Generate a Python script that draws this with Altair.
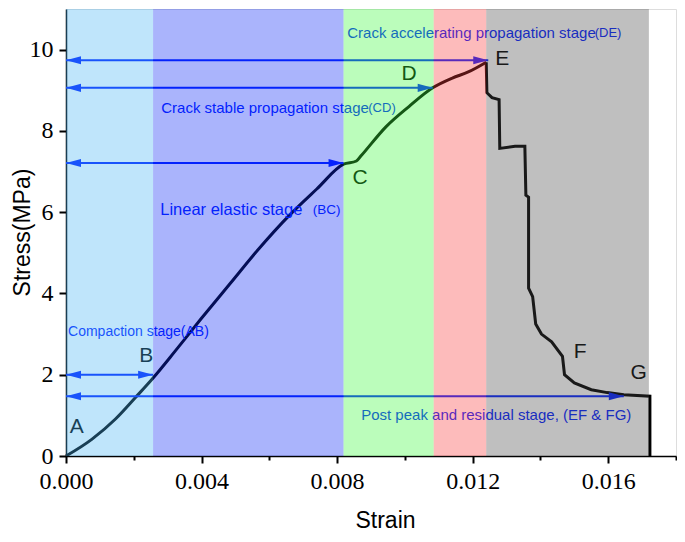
import altair as alt
import pandas as pd

# ---- data ----
# pre-peak branch (A -> E)
rise_strain = [0.0, 0.00076, 0.00146, 0.00205, 0.00257, 0.00322, 0.00398, 0.00485, 0.00564,
               0.00661, 0.0074, 0.00819, 0.00857, 0.0087, 0.00944, 0.01012, 0.01082, 0.0114,
               0.01187, 0.01240]
rise_stress = [0.0, 0.41, 0.91, 1.44, 1.92, 2.58, 3.37, 4.25, 5.05,
               5.94, 6.57, 7.18, 7.26, 7.38, 8.1, 8.6, 9.06, 9.3,
               9.45, 9.69]
# post-peak branch (E -> F -> G)
fall_strain = [0.01240, 0.01242, 0.01257, 0.01278, 0.0128, 0.01325, 0.01354, 0.01357,
               0.01365, 0.01365, 0.01377, 0.01386, 0.01403, 0.01433, 0.01465, 0.01471, 0.015,
               0.0155, 0.01597, 0.01646, 0.01723, 0.01723]
fall_stress = [9.69, 8.94, 8.82, 8.77, 7.57, 7.62, 7.62, 6.42,
               6.37, 4.13, 3.92, 3.25, 3.0, 2.81, 2.45, 2.0, 1.8,
               1.63, 1.56, 1.51, 1.47, 0.0]

band_start = [0.0, 0.00257, 0.00819, 0.01085, 0.01240]
band_end = [0.00257, 0.00819, 0.01085, 0.01240, 0.01720]
band_color = ["#48B5F4", "#0C29F6", "#3DF93D", "#F93D3D", "#484848"]

arrow_y = [9.74, 9.06, 7.21, 2.0, 1.47]
arrow_start = [0.0, 0.0, 0.0, 0.0, 0.0]
arrow_end = [0.01246, 0.01082, 0.00819, 0.00257, 0.01646]

letters = ["A", "B", "C", "D", "E", "F", "G"]
letter_x = [0.00032, 0.00237, 0.00868, 0.01012, 0.01287, 0.01517, 0.01690]
letter_y = [0.72, 2.45, 6.83, 9.40, 9.76, 2.55, 2.04]

stage_text = ["Crack accelerating propagation stage", "Crack stable propagation stage",
              "Linear elastic stage ", "Compaction stage(AB)",
              "Post peak and residual stage, (EF & FG)",
              "(DE)", "(CD)", "(BC)"]
stage_x = [0.00830, 0.00281, 0.00278, 0.00006, 0.00871, 0.01560, 0.00892, 0.00728]
stage_y = [10.41, 8.56, 6.06, 3.05, 1.01, 10.41, 8.56, 6.06]
stage_size = [15, 15, 16.5, 14, 15, 13, 13, 13.5]

x_ticks = [0.0, 0.002, 0.004, 0.006, 0.008, 0.010, 0.012, 0.014, 0.016, 0.018]
y_ticks = [0, 2, 4, 6, 8, 10]

# ---- tables ----
rise = pd.DataFrame({"strain": rise_strain, "stress": rise_stress,
                     "order": list(range(len(rise_strain)))})
fall = pd.DataFrame({"strain": fall_strain, "stress": fall_stress,
                     "order": list(range(len(fall_strain)))})
bands = pd.DataFrame({"start": band_start, "end": band_end, "color": band_color})
arrows = pd.DataFrame({"y": arrow_y, "x0": arrow_start, "x1": arrow_end})
lets = pd.DataFrame({"t": letters, "x": letter_x, "y": letter_y})
stages = pd.DataFrame({"t": stage_text, "x": stage_x, "y": stage_y, "s": stage_size})

BLUE = "#0020FF"
xs = alt.Scale(domain=[0, 0.018], nice=False, zero=False)
ys = alt.Scale(domain=[0, 11], nice=False)

x_axis = alt.Axis(
    title="Strain", values=x_ticks,
    labelExpr="round(datum.value*1000) % 4 == 0 ? format(datum.value, '.3f') : ''",
    tickSize={"condition": {"test": "round(datum.value*1000) % 4 == 0", "value": 7}, "value": 4},
    labelFont="Liberation Serif", labelFontSize=24, labelColor="black", labelPadding=6,
    titleFont="Liberation Sans", titleFontSize=23, titleFontWeight="normal", titleColor="black",
    titleX=319, titleY=71, titleBaseline="alphabetic", titleAlign="center",
    grid=False, domainColor="black", domainWidth=1.5, tickColor="black", tickWidth=2,
    labelFlush=False, labelOverlap=False,
)
y_axis = alt.Axis(
    title="Stress(MPa)", values=y_ticks, format="d", tickSize=7,
    labelFont="Liberation Serif", labelFontSize=24, labelColor="black", labelPadding=6,
    titleFont="Liberation Sans", titleFontSize=23, titleFontWeight="normal", titleColor="black",
    titleX=-44, titleY=223, titleAngle=-90, titleAlign="center", titleBaseline="middle",
    grid=False, domainColor="black", domainWidth=1.5, tickColor="black", tickWidth=2,
    labelFlush=False, labelOverlap=False,
)

line_rise = alt.Chart(rise).mark_line(
    color="black", strokeWidth=3, interpolate="monotone"
).encode(
    x=alt.X("strain:Q", scale=xs, axis=x_axis),
    y=alt.Y("stress:Q", scale=ys, axis=y_axis),
    order="order:Q",
)
line_fall = alt.Chart(fall).mark_line(color="black", strokeWidth=3, strokeJoin="miter").encode(
    x=alt.X("strain:Q", scale=xs), y=alt.Y("stress:Q", scale=ys), order="order:Q"
)

arrow_lines = alt.Chart(arrows).mark_rule(color=BLUE, strokeWidth=2).encode(
    x=alt.X("x0:Q", scale=xs), x2="x1:Q", y=alt.Y("y:Q", scale=ys)
)
head_r = alt.Chart(arrows).mark_point(
    shape="M0,0L-1,-0.27L-1,0.27Z", filled=True, size=900, color=BLUE, opacity=1, strokeWidth=0
).encode(x=alt.X("x1:Q", scale=xs), y=alt.Y("y:Q", scale=ys))
head_l = alt.Chart(arrows).mark_point(
    shape="M0,0L1,-0.27L1,0.27Z", filled=True, size=900, color=BLUE, opacity=1, strokeWidth=0
).encode(x=alt.X("x0:Q", scale=xs), y=alt.Y("y:Q", scale=ys))

stage_labels = alt.Chart(stages).mark_text(
    align="left", baseline="middle", font="Liberation Sans", color=BLUE
).encode(
    x=alt.X("x:Q", scale=xs), y=alt.Y("y:Q", scale=ys), text="t:N",
    size=alt.Size("s:Q", scale=None, legend=None),
)

letter_labels = alt.Chart(lets).mark_text(
    align="center", baseline="middle", font="Liberation Sans", fontSize=21, color="black"
).encode(x=alt.X("x:Q", scale=xs), y=alt.Y("y:Q", scale=ys), text="t:N")

band_rects = alt.Chart(bands).mark_rect(opacity=0.35).encode(
    x=alt.X("start:Q", scale=xs), x2="end:Q",
    y=alt.datum(0, scale=ys), y2=alt.datum(11),
    color=alt.Color("color:N", scale=None, legend=None),
)

chart = alt.layer(
    line_rise, line_fall, arrow_lines, head_r, head_l, stage_labels, letter_labels, band_rects
).properties(
    width=610, height=447,
    autosize=alt.AutoSizeParams(type="none"),
    padding={"left": 58, "top": 1, "right": 1, "bottom": 78},
).configure_view(stroke="black", strokeWidth=1.5).configure(background="white")

chart.save("out.html", embed_options={"renderer": "svg", "actions": False})
